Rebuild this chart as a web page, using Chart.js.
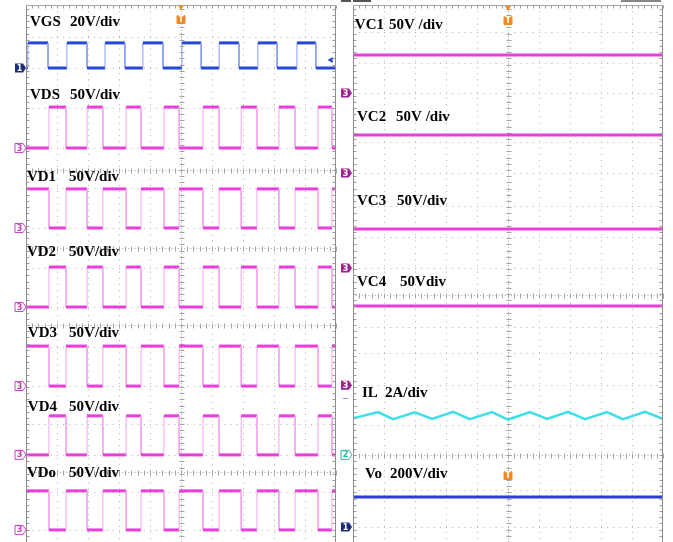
<!DOCTYPE html>
<html>
<head>
<meta charset="utf-8">
<script src="https://cdn.jsdelivr.net/npm/chart.js@4/dist/chart.umd.min.js"></script>
<style>
  html, body { margin: 0; padding: 0; background: #fff; }
  #wrap { position: relative; width: 673px; height: 542px; overflow: hidden; }
  canvas { position: absolute; top: 0; }
  #left { left: 0; }
  #right { left: 337px; }
</style>
</head>
<body>
<div id="wrap">
  <canvas id="left" width="345" height="542"></canvas>
  <canvas id="right" width="336" height="542"></canvas>
</div>
<script>
// ---- waveform data (time in horizontal divisions, amplitude in vertical divisions) ----

// switching instants of the gate drive and of the drain/diode nodes
const gateEdges  = [0.06, 0.71, 1.32, 1.97, 2.55, 3.19, 3.77, 4.42, 5.03, 5.65, 6.23, 6.87, 7.48, 8.10, 8.74, 9.35];
const drainEdges = [0.74, 1.29, 1.97, 2.48, 3.23, 3.71, 4.45, 4.94, 5.71, 6.23, 6.94, 7.45, 8.16, 8.68, 9.42, 9.87];

// left screen: pulse channels
const leftNames     = ['VGS', 'VDS', 'VD1', 'VD2', 'VD3', 'VD4', 'VDo'];
const leftScaleText = ['20V/div', '50V/div', '50V/div', '50V/div', '50V/div', '50V/div', '50V/div'];
const leftSwing     = [0.81, 1.32, 1.26, 1.29, 1.29, 1.26, 1.26];
const leftStartHigh = [false, false, true, false, true, false, true];

// right screen: capacitor voltages, inductor current, output voltage
const rightNames     = ['VC1', 'VC2', 'VC3', 'VC4', 'IL', 'Vo'];
const rightScaleText = ['50V /div', '50V /div', '50V/div', '50Vdiv', '2A/div', '200V/div'];
const dcLevels       = [1.23, 1.23, 1.26, 2.55, 0.97];   // VC1..VC4, Vo above their markers
const ilTimes  = [0, 0.81, 1.29, 2.00, 2.55, 3.23, 3.77, 4.48, 5.00, 5.71, 6.26, 6.94, 7.48, 8.19, 8.71, 9.42, 10];
const ilValues = [1.18, 1.38, 1.15, 1.37, 1.16, 1.39, 1.15, 1.38, 1.14, 1.38, 1.16, 1.39, 1.15, 1.38, 1.15, 1.39, 1.16];

// ---- screen layout (vertical divisions from the bottom edge) ----
const Y_MAX = 537 / 31;
const leftOffsets  = [15.29, 12.71, 10.13, 7.58, 5.03, 2.81, 0.39];
const rightOffsets = [14.48, 11.90, 8.84, 5.06, 2.81, 0.48];
const leftLabelPos  = [[0.13, 1.42, 16.77], [0.13, 1.42, 14.42], [0.03, 1.39, 11.77], [0.03, 1.39, 9.35],
                       [0.06, 1.39, 6.74], [0.06, 1.39, 4.35], [0.03, 1.39, 2.23]];
const rightLabelPos = [[0.06, 1.16, 16.66], [0.13, 1.39, 13.71], [0.13, 1.42, 11.0], [0.13, 1.52, 8.39],
                       [0.29, 1.03, 4.81], [0.39, 1.19, 2.19]];
const leftGridY  = [16.29, 15.29, 14.0, 12.71, 11.42, 10.13, 8.84, 7.58, 6.29, 5.03, 3.81, 2.81, 1.61, 0.39];
const leftAxisY  = [12.0, 9.48, 7.0, 2.26];
const rightGridY = [16.45, 15.45, 14.48, 12.9, 11.9, 10.84, 9.84, 8.84, 6.94, 6.1, 5.06, 3.77, 1.68, 0.48];
const rightAxisY = [7.97, 2.81];

const MAGENTA = '#eb3cdc', MAGENTA_EDGE = '#f3a4ee';
const BLUE = '#2447d8', BLUE_EDGE = '#8a9cf0';
const CYAN = '#3fdfe9', NAVY = '#1c2a7a';

// square wave through the given switching instants
function pulse(edges, startHigh, swing, base) {
  let hi = startHigh;
  const lvl = () => base + (hi ? swing : 0);
  const pts = [{x: 0, y: lvl()}];
  for (const t of edges) {
    pts.push({x: t, y: lvl()});
    hi = !hi;
    pts.push({x: t, y: lvl()});
  }
  pts.push({x: 10, y: lvl()});
  return pts;
}

function traceSet(points, color, edgeColor, width) {
  return {
    data: points,
    borderColor: color,
    borderWidth: width,
    pointRadius: 0,
    tension: 0,
    segment: {
      borderColor: c => c.p0.parsed.x === c.p1.parsed.x ? edgeColor : color,
      borderWidth: c => c.p0.parsed.x === c.p1.parsed.x ? 1 : width
    }
  };
}

function line(ctx, x1, y1, x2, y2) {
  ctx.beginPath(); ctx.moveTo(x1, y1); ctx.lineTo(x2, y2); ctx.stroke();
}

function channelFlag(ctx, tipX, yc, text, kind) {
  const h = 4.5, w = 11;
  ctx.save();
  ctx.beginPath();
  ctx.moveTo(tipX - w, yc - h); ctx.lineTo(tipX - 3, yc - h); ctx.lineTo(tipX, yc);
  ctx.lineTo(tipX - 3, yc + h); ctx.lineTo(tipX - w, yc + h); ctx.closePath();
  let txt = '#fff';
  if (kind === 'navy') { ctx.fillStyle = NAVY; ctx.fill(); }
  else if (kind === 'purple') { ctx.fillStyle = '#9b2490'; ctx.fill(); }
  else {
    const c = kind === 'teal' ? '#2fb3a8' : '#c843c0';
    ctx.fillStyle = '#fff'; ctx.fill();
    ctx.strokeStyle = c; ctx.lineWidth = 1; ctx.stroke();
    txt = c;
  }
  ctx.fillStyle = txt;
  ctx.font = 'bold 8px "DejaVu Sans"';
  ctx.textAlign = 'center'; ctx.textBaseline = 'middle';
  ctx.fillText(text, tipX - 6.5, yc + 0.5);
  ctx.restore();
}

function trigFlag(ctx, cx, top, withDrop) {
  ctx.save();
  ctx.fillStyle = '#f08a24';
  if (withDrop) {
    ctx.beginPath(); ctx.moveTo(cx - 3, top - 10); ctx.lineTo(cx + 3, top - 10); ctx.lineTo(cx, top - 5);
    ctx.closePath(); ctx.fill();
  }
  ctx.beginPath(); ctx.roundRect(cx - 4.5, top, 9, 9, 1.5); ctx.fill();
  ctx.fillStyle = '#fff';
  ctx.font = 'bold 8px "DejaVu Sans"';
  ctx.textAlign = 'center'; ctx.textBaseline = 'middle';
  ctx.fillText('T', cx, top + 5);
  ctx.restore();
}

function scopePlugin(cfg) {
  return {
    id: 'scope' + cfg.id,
    beforeDatasetsDraw(chart) {
      const {ctx, chartArea: a, scales: {x, y}} = chart;
      ctx.save();
      ctx.lineWidth = 1;
      // dotted division grid
      ctx.strokeStyle = '#b2b2b2';
      ctx.setLineDash([1, 5.2]);
      for (let i = 1; i < 10; i++) {
        if (i === 5) continue;
        const px = Math.round(x.getPixelForValue(i)) + 0.5;
        line(ctx, px, a.top, px, a.bottom);
      }
      for (const v of cfg.gridY) {
        const py = Math.round(y.getPixelForValue(v)) + 0.5;
        line(ctx, a.left, py, a.right, py);
      }
      // centre axes with minor ticks
      ctx.strokeStyle = '#a4a4a4';
      ctx.setLineDash([1, 2.1]);
      const cx = Math.round(x.getPixelForValue(5)) + 0.5;
      line(ctx, cx, a.top, cx, a.bottom);
      for (const v of cfg.axisY) {
        const py = Math.round(y.getPixelForValue(v)) + 0.5;
        line(ctx, a.left, py, a.right, py);
      }
      ctx.setLineDash([]);
      for (let v = 0; v <= Y_MAX; v += 0.2) {
        const py = Math.round(y.getPixelForValue(v)) + 0.5;
        line(ctx, cx - 2, py, cx + 3, py);
      }
      for (const v of cfg.axisY) {
        const py = Math.round(y.getPixelForValue(v)) + 0.5;
        for (let t = 0.2; t < 10; t += 0.2) {
          const px = Math.round(x.getPixelForValue(t)) + 0.5;
          line(ctx, px, py - 2, px, py + 3);
        }
      }
      ctx.restore();
    },
    afterDatasetsDraw(chart) {
      const {ctx, chartArea: a, scales: {x, y}} = chart;
      ctx.save();
      // screen frame with edge ticks
      ctx.lineWidth = 1;
      ctx.strokeStyle = '#8c8c8c';
      const L = a.left + 0.5, R = Math.round(a.right) - 0.5, T = a.top + 0.5;
      line(ctx, L, T, L, a.bottom);
      line(ctx, R, T, R, a.bottom);
      ctx.strokeStyle = '#a6a6a6';
      line(ctx, L, T, R, T);
      ctx.strokeStyle = '#9a9a9a';
      for (let v = 0.2; v <= Y_MAX; v += 0.2) {
        const py = Math.round(y.getPixelForValue(v)) + 0.5;
        line(ctx, L, py, L + 3, py);
        line(ctx, R - 3, py, R, py);
      }
      for (let t = 0.2; t < 10; t += 0.2) {
        const px = Math.round(x.getPixelForValue(t)) + 0.5;
        line(ctx, px, T, px, T + 3);
      }
      // channel labels
      ctx.fillStyle = '#000';
      ctx.font = 'bold 15px "Liberation Serif"';
      ctx.textAlign = 'left'; ctx.textBaseline = 'middle';
      cfg.names.forEach((n, i) => {
        const [x1, x2, yv] = cfg.labelPos[i];
        const py = y.getPixelForValue(yv);
        ctx.fillText(n, x.getPixelForValue(x1), py);
        ctx.fillText(cfg.scaleText[i], x.getPixelForValue(x2), py);
      });
      // channel ground markers
      cfg.markers.forEach(m => channelFlag(ctx, a.left + cfg.markerShift, y.getPixelForValue(m.y), m.text, m.kind));
      // trigger position markers
      const tx = x.getPixelForValue(5);
      trigFlag(ctx, tx, a.top + cfg.trigTop, true);
      if (cfg.extra) cfg.extra(ctx, a, x, y);
      ctx.restore();
    }
  };
}

function makeScope(id, pad, datasets, cfg) {
  return new Chart(document.getElementById(id), {
    type: 'line',
    data: {datasets},
    options: {
      responsive: false,
      animation: false,
      devicePixelRatio: 1,
      events: [],
      layout: {padding: pad},
      plugins: {legend: {display: false}, tooltip: {enabled: false}},
      scales: {
        x: {type: 'linear', min: 0, max: 10, display: false},
        y: {type: 'linear', min: 0, max: Y_MAX, display: false}
      }
    },
    plugins: [scopePlugin(cfg)]
  });
}

// ---- left screen: switching waveforms ----
const leftSets = leftNames.map((n, i) => {
  const edges = i === 0 ? gateEdges : drainEdges;
  const pts = pulse(edges, leftStartHigh[i], leftSwing[i], leftOffsets[i]);
  return i === 0 ? traceSet(pts, BLUE, BLUE_EDGE, 3) : traceSet(pts, MAGENTA, MAGENTA_EDGE, 3);
});

makeScope('left', {left: 26, right: 9, top: 5, bottom: 0}, leftSets, {
  id: 'L', names: leftNames, scaleText: leftScaleText, labelPos: leftLabelPos,
  gridY: leftGridY, axisY: leftAxisY, markerShift: 0, trigTop: 10,
  markers: leftOffsets.map((v, i) => ({y: v, text: i === 0 ? '1' : '3', kind: i === 0 ? 'navy' : 'outline'})),
  extra(ctx, a, x, y) {
    // trigger level arrow on the gate channel
    const px = x.getPixelForValue(9.81), py = y.getPixelForValue(15.55);
    ctx.fillStyle = BLUE;
    ctx.beginPath(); ctx.moveTo(px - 2.5, py); ctx.lineTo(px + 2.5, py - 3); ctx.lineTo(px + 2.5, py + 3);
    ctx.closePath(); ctx.fill();
  }
});

// ---- right screen: DC quantities and inductor current ----
const flat = v => [{x: 0, y: v}, {x: 10, y: v}];
const rightSets = [
  traceSet(flat(rightOffsets[0] + dcLevels[0]), MAGENTA, MAGENTA, 3),
  traceSet(flat(rightOffsets[1] + dcLevels[1]), MAGENTA, MAGENTA, 3),
  traceSet(flat(rightOffsets[2] + dcLevels[2]), MAGENTA, MAGENTA, 3),
  traceSet(flat(rightOffsets[3] + dcLevels[3]), MAGENTA, MAGENTA, 3),
  traceSet(ilTimes.map((t, i) => ({x: t, y: rightOffsets[4] + ilValues[i]})), CYAN, CYAN, 2.5),
  traceSet(flat(rightOffsets[5] + dcLevels[4]), '#2a3fcf', '#2a3fcf', 3)
];

makeScope('right', {left: 16, right: 10, top: 5, bottom: 0}, rightSets, {
  id: 'R', names: rightNames, scaleText: rightScaleText, labelPos: rightLabelPos,
  gridY: rightGridY, axisY: rightAxisY, markerShift: -1, trigTop: 11,
  markers: [
    {y: rightOffsets[0], text: '3', kind: 'purple'},
    {y: rightOffsets[1], text: '3', kind: 'purple'},
    {y: rightOffsets[2], text: '3', kind: 'purple'},
    {y: rightOffsets[3], text: '3', kind: 'purple'},
    {y: rightOffsets[4], text: '2', kind: 'teal'},
    {y: rightOffsets[5], text: '1', kind: 'navy'}
  ],
  extra(ctx, a, x, y) {
    trigFlag(ctx, x.getPixelForValue(5), y.getPixelForValue(2.16) - 4, false);
    // current-channel level tick outside the screen
    ctx.strokeStyle = '#8d9cc8'; ctx.lineWidth = 1;
    const py = Math.round(y.getPixelForValue(4.65)) + 0.5;
    line(ctx, a.left - 10, py, a.left - 5, py);
    // status bar fragments along the top edge
    ctx.fillStyle = '#555';
    ctx.fillRect(a.left - 12, 0, 10, 2);
    ctx.fillRect(a.left, 0, 18, 2);
    ctx.fillStyle = '#888';
    ctx.fillRect(a.right - 42, 0, 40, 2);
  }
});
</script>
</body>
</html>
